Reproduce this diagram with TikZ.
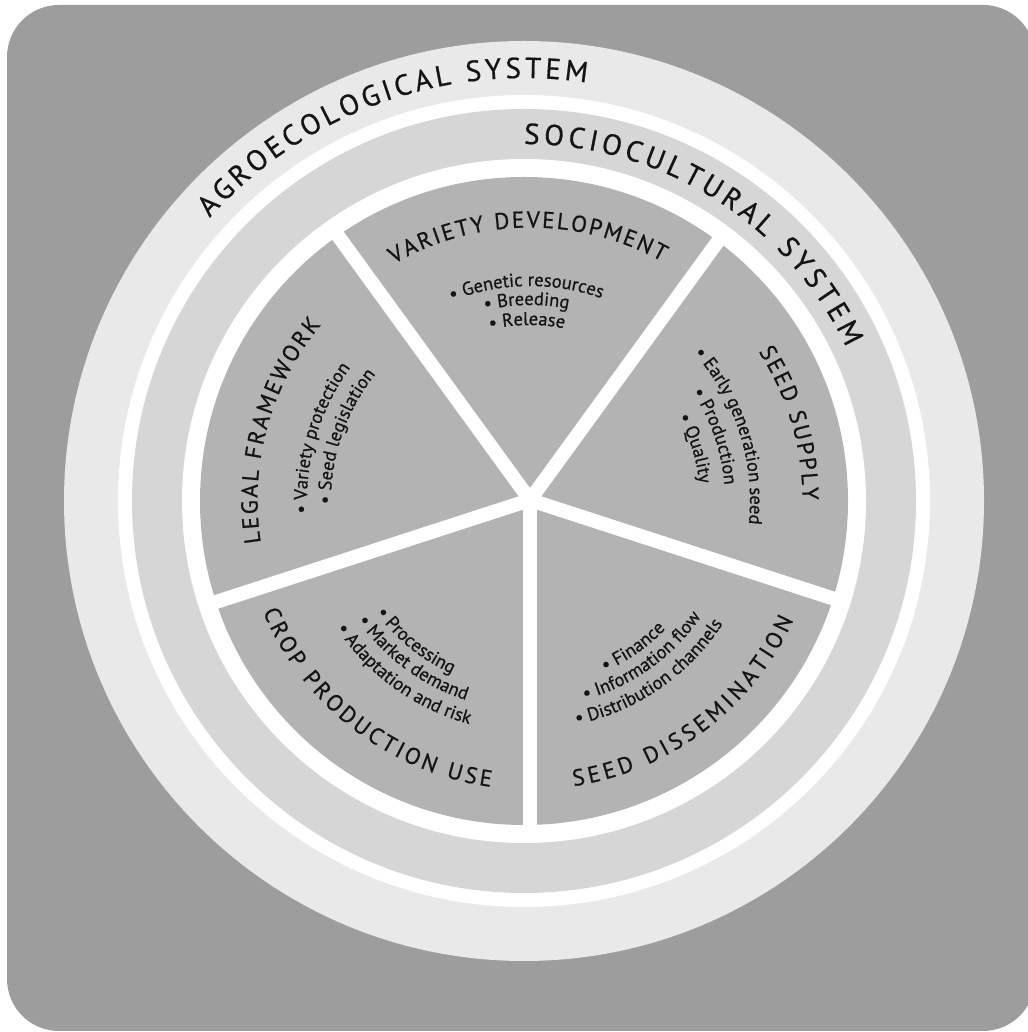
\documentclass[tikz,border=0pt]{standalone}
\usepackage{fontspec}
\setmainfont{PT Sans}[FakeBold=0.7]
\usetikzlibrary{decorations.text}

\definecolor{frame}{HTML}{9D9D9E}
\definecolor{agro}{HTML}{E9E9E9}
\definecolor{socio}{HTML}{D6D6D6}
\definecolor{wedge}{HTML}{B3B3B3}
\definecolor{ink}{HTML}{141414}

\newcommand{\bigcaps}{\fontsize{29}{29}\selectfont}
\newcommand{\caps}{\fontsize{23}{23}\selectfont}
\newcommand{\items}{\fontsize{18.5}{18.5}\selectfont}

% centre, radius, from, to, align, text
\newcommand{\arclabel}[6]{%
\path[shift={(#1)},decorate,decoration={text along path,text align=#5,text color=ink,text={#6}}]
  (#3:#2) arc[start angle=#3,end angle=#4,radius=#2];}

\begin{document}
\begin{tikzpicture}[x=1pt,y=1pt]
\useasboundingbox[fill=white] (0,0) rectangle (1027,1032);
\fill[frame,rounded corners=52] (7,1) rectangle (1035,1027);

\coordinate (c) at (524,531);
\coordinate (h) at (530,532);
\fill[agro] (c) circle[radius=460];
\fill[white] (c) circle[radius=406];
\fill[socio] (c) circle[radius=392];
\fill[white] (c) circle[radius=342];
\fill[wedge] (c) circle[radius=324];
\foreach \a in {126,54,-18,-90,-162}
  \draw[white,line width=14] (h) -- ++(\a:336);

\arclabel{c}{423}{138}{81.5}{fit to path}{|\bigcaps|AGROECOLOGICAL SYSTEM}
\arclabel{c}{357}{90}{25.5}{fit to path}{|\bigcaps|SOCIOCULTURAL SYSTEM}

\arclabel{h}{272.5}{120}{61}{fit to path}{|\caps|VARIETY DEVELOPMENT}
\arclabel{h}{214}{136}{46}{center}{|\items|• Genetic resources}
\arclabel{h}{195}{136}{46}{center}{|\items|• Breeding}
\arclabel{h}{175}{136}{46}{center}{|\items|• Release}

\arclabel{h}{272.5}{189}{140}{fit to path}{|\caps|LEGAL FRAMEWORK}
\arclabel{h}{223}{208.5}{118.5}{center}{|\items|• Variety protection}
\arclabel{h}{199}{206}{116}{center}{|\items|• Seed legislation}

\arclabel{h}{272.5}{33}{0}{fit to path}{|\caps|SEED SUPPLY}
\arclabel{h}{220}{62.8}{-27.2}{center}{|\items|• Early generation seed}
\arclabel{h}{195}{64}{-26}{center}{|\items|• Production}
\arclabel{h}{170}{62.4}{-27.6}{center}{|\items|• Quality}

\arclabel{h}{289.5}{202.7}{262.2}{fit to path}{|\caps|CROP PRODUCTION USE}
\arclabel{h}{190.5}{186}{276}{center}{|\items|• Processing}
\arclabel{h}{210}{188.6}{278.6}{center}{|\items|• Market demand}
\arclabel{h}{232}{189.2}{279.2}{center}{|\items|• Adaptation and risk}

\arclabel{h}{289.5}{-81.3}{-24.5}{fit to path}{|\caps|SEED DISSEMINATION}
\arclabel{h}{187}{-100}{-10}{center}{|\items|• Finance}
\arclabel{h}{207}{-99.5}{-9.5}{center}{|\items|• Information flow}
\arclabel{h}{229}{-100.5}{-10.5}{center}{|\items|• Distribution channels}
\end{tikzpicture}
\end{document}
